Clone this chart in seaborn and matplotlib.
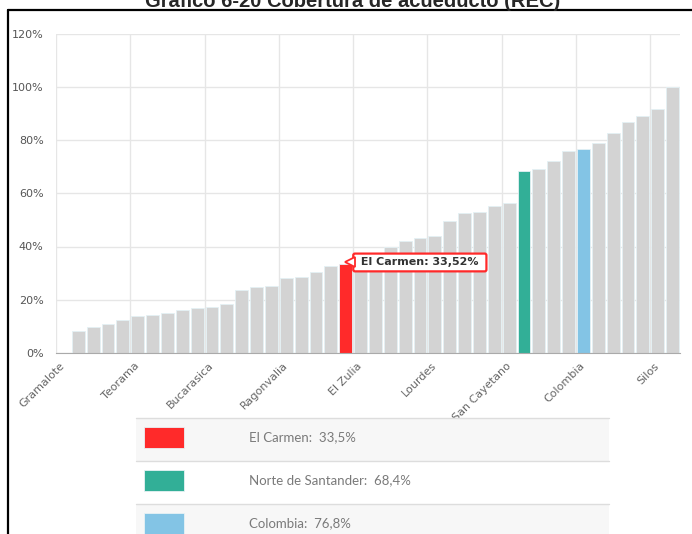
import numpy as np
import pandas as pd
import seaborn as sns
from matplotlib import pyplot as plt
from matplotlib.patches import Rectangle
from matplotlib.lines import Line2D

# valores de cobertura de acueducto (%) ordenados de menor a mayor
valores = [0.0, 8.2, 9.7, 10.8, 12.3, 13.8, 14.2, 15.0, 16.1, 16.8,
           17.3, 18.3, 23.7, 24.9, 25.3, 28.0, 28.6, 30.3, 32.5, 33.52,
           35.0, 37.0, 40.0, 42.1, 43.1, 43.8, 49.6, 52.6, 53.0, 55.3,
           56.5, 68.4, 69.1, 72.2, 76.0, 76.8, 79.0, 82.8, 86.7, 88.9,
           91.7, 100.0]
destacados = {19: 'El Carmen', 31: 'Norte de Santander', 35: 'Colombia'}
etiquetas_pos = [0, 5, 10, 15, 20, 25, 30, 35, 40]
etiquetas = ['Gramalote', 'Teorama', 'Bucarasica', 'Ragonvalia', 'El Zulia',
             'Lourdes', 'San Cayetano', 'Colombia', 'Silos']
leyenda_txt = ['El Carmen:  33,5%', 'Norte de Santander:  68,4%', 'Colombia:  76,8%']

colores = {'otro': '#d3d3d3', 'El Carmen': '#ff2a2a',
           'Norte de Santander': '#32af97', 'Colombia': '#83c4e5'}

grupos = [destacados.get(i, 'otro') for i in range(len(valores))]
df = pd.DataFrame({'pos': range(len(valores)), 'valor': valores, 'grupo': grupos})

sns.set_style('white')
W, H = 692, 534
fig = plt.figure(figsize=(W / 100, H / 100), dpi=100)

def fx(x):
    return x / W

def fy(y):
    return 1 - y / H

ax = fig.add_axes([fx(56), fy(353), (680 - 56) / W, (353 - 33.5) / H])
ax.set_axisbelow(True)

sns.barplot(data=df, x='pos', y='valor', hue='grupo', palette=colores,
            saturation=1, dodge=False, width=0.86, edgecolor='#e4f1f5',
            linewidth=0.6, legend=False, ax=ax, zorder=2)

ax.set_xlim(-0.5, len(valores) - 0.5)
ax.set_ylim(0, 120)
ax.set_yticks(range(0, 121, 20))
ax.set_yticklabels([f'{v}%' for v in range(0, 121, 20)], color='#555555',
                   fontsize=8)
ax.yaxis.grid(True, color='#e6e6e6', lw=1)
ax.vlines(np.arange(-0.5, 40, 5), 0, 120, color='#e6e6e6', lw=1, zorder=0)

ax.set_xticks(etiquetas_pos)
ax.set_xticklabels(etiquetas, rotation=45, ha='right', va='center',
                   rotation_mode='anchor', color='#666666', fontsize=8)
ax.tick_params(axis='x', length=5, color='#aaaaaa', width=1, pad=3)
ax.tick_params(axis='y', length=0, pad=9)
ax.set_xlabel('')
ax.set_ylabel('')
for s in ['top', 'right', 'left']:
    ax.spines[s].set_visible(False)
ax.spines['bottom'].set_color('#aaaaaa')

# tooltip de El Carmen
ax.text(19.77, 34.0, ' El Carmen: 33,52% ', fontsize=8, weight='bold',
        color='#333333', va='center', ha='left', zorder=5,
        bbox=dict(boxstyle='round,pad=0.35,rounding_size=0.15', fc='white',
                  ec='#ff2a2a', lw=1.6))
ax.plot([19.3], [34.0], marker='<', ms=7, mfc='white', mec='#ff2a2a',
        mew=1.3, zorder=6, clip_on=False)

# titulo recortado y marco del documento
fig.text(fx(353), fy(7), 'Gráfico 6-20 Cobertura de acueducto (REC)',
         ha='center', va='baseline', fontsize=14.5, weight='bold',
         family='Liberation Sans')
fig.add_artist(Line2D([fx(8), 1], [fy(10), fy(10)], color='black', lw=1.6))
fig.add_artist(Line2D([fx(8), fx(8)], [0, fy(10)], color='black', lw=1.6))

# tabla de leyenda
filas = [418, 461, 504]
fondos = ['#f7f7f7', '#ffffff', '#f7f7f7']
swatch = [colores['El Carmen'], colores['Norte de Santander'], colores['Colombia']]
for i, y0 in enumerate(filas):
    fig.add_artist(Rectangle((fx(136), fy(y0 + 43)), (609 - 136) / W, 43 / H,
                             transform=fig.transFigure, fc=fondos[i], ec='none'))
    fig.add_artist(Line2D([fx(136), fx(609)], [fy(y0), fy(y0)],
                          color='#dddddd', lw=1))
    fig.add_artist(Rectangle((fx(144), fy(y0 + 30)), 40 / W, 21 / H,
                             transform=fig.transFigure, fc=swatch[i],
                             ec='#e8f2f5', lw=0.6))
    fig.text(fx(249), fy(y0 + 19.5), leyenda_txt[i], fontsize=9.5,
             color='#7a7a7a', va='center', ha='left', family='Lato')

fig.savefig('out.png', dpi=100)
